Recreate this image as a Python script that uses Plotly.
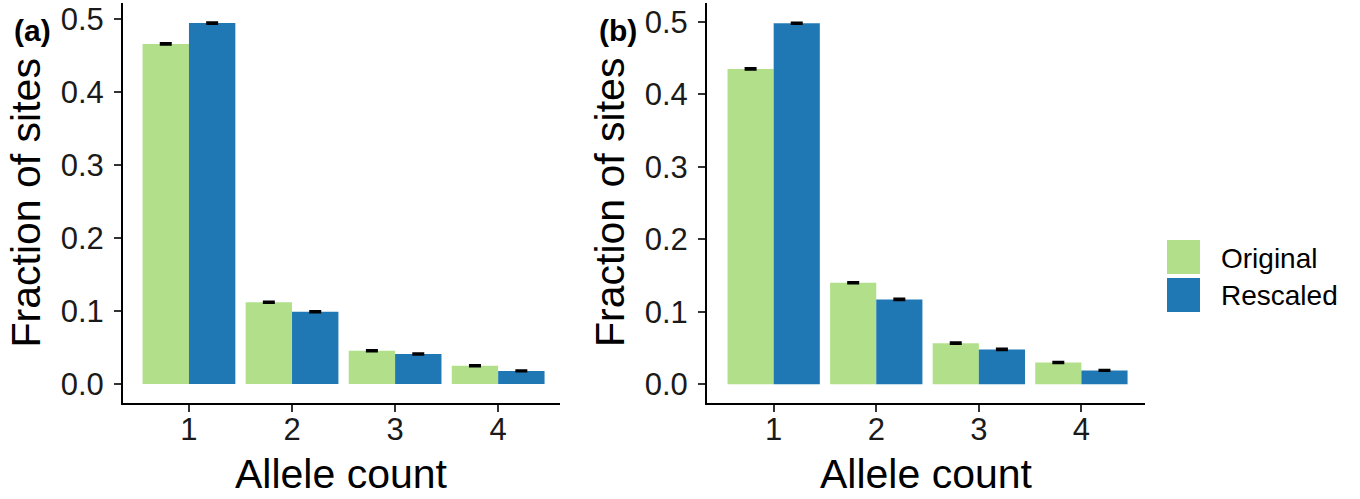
import plotly.graph_objects as go

W, H = 1360, 499

categories = [1, 2, 3, 4]
tick_labels = ["1", "2", "3", "4"]
series_names = ["Original", "Rescaled"]
colors = ["#b2df8a", "#1f78b4"]

# Panel (a)
a_original = [0.466, 0.112, 0.0456, 0.025]
a_rescaled = [0.4945, 0.099, 0.041, 0.018]
a_err_original = [0.0008, 0.0008, 0.0008, 0.0007]
a_err_rescaled = [0.0008, 0.0008, 0.0007, 0.0006]

# Panel (b)
b_original = [0.435, 0.140, 0.0566, 0.030]
b_rescaled = [0.498, 0.117, 0.048, 0.019]
b_err_original = [0.0008, 0.0008, 0.0008, 0.0007]
b_err_rescaled = [0.0008, 0.0008, 0.0007, 0.0006]

y_ticks = [0.0, 0.1, 0.2, 0.3, 0.4, 0.5]
y_tick_text = ["0.0", "0.1", "0.2", "0.3", "0.4", "0.5"]

FONT = "Liberation Sans, Arial, Helvetica, sans-serif"

def px_x(p):
    return p / W

def px_y(p):
    return (H - p) / H

fig = go.Figure()

panels = [
    ("x", "y", [a_original, a_rescaled], [a_err_original, a_err_rescaled]),
    ("x2", "y2", [b_original, b_rescaled], [b_err_original, b_err_rescaled]),
]
for xa, ya, vals, errs in panels:
    for name, col, v, e in zip(series_names, colors, vals, errs):
        fig.add_trace(go.Bar(
            x=categories, y=v, name=name, xaxis=xa, yaxis=ya,
            marker=dict(color=col, line=dict(width=0)),
            error_y=dict(type="data", array=e, visible=True,
                         color="black", thickness=2.5, width=6),
            showlegend=False,
        ))

axis_common = dict(
    showline=True, linecolor="black", linewidth=2,
    ticks="outside", ticklen=7, tickwidth=2, tickcolor="#333333",
    showgrid=False, zeroline=False,
    tickfont=dict(family=FONT, size=31, color="#1a1a1a"),
)

ydom = [px_y(403), px_y(3)]

fig.update_layout(
    width=W, height=H,
    margin=dict(l=0, r=0, t=0, b=0),
    paper_bgcolor="white", plot_bgcolor="white",
    barmode="group", bargap=0.1, bargroupgap=0.0,
    xaxis=dict(domain=[px_x(123), px_x(560)], range=[0.36, 4.6],
               tickvals=categories, ticktext=tick_labels, anchor="y",
               ticklabelstandoff=-9, **axis_common),
    yaxis=dict(domain=ydom, range=[-0.026, 0.522], tickvals=y_ticks,
               ticktext=y_tick_text, anchor="x", ticklabelstandoff=4, **axis_common),
    xaxis2=dict(domain=[px_x(707), px_x(1145)], range=[0.35, 4.62],
                tickvals=categories, ticktext=tick_labels, anchor="y2",
                ticklabelstandoff=-9, **axis_common),
    yaxis2=dict(domain=ydom, range=[-0.026, 0.526], tickvals=y_ticks,
                ticktext=y_tick_text, anchor="x2", ticklabelstandoff=4, **axis_common),
)

annotations = []
# axis titles
for cx in [(123 + 560) / 2, (707 + 1145) / 2]:
    annotations.append(dict(text="Allele count", x=px_x(cx), y=px_y(474),
                            xref="paper", yref="paper", showarrow=False,
                            xanchor="center", yanchor="middle",
                            font=dict(family=FONT, size=41, color="black")))
for cx in [25.5, 610]:
    annotations.append(dict(text="Fraction of sites", x=px_x(cx), y=px_y(203),
                            xref="paper", yref="paper", showarrow=False,
                            textangle=-90, xanchor="center", yanchor="middle",
                            font=dict(family=FONT, size=41, color="black")))
# panel labels
for lab, lx in [("(a)", 12), ("(b)", 597)]:
    annotations.append(dict(text="<b>%s</b>" % lab, x=px_x(lx), y=px_y(31),
                            xref="paper", yref="paper", showarrow=False,
                            xanchor="left", yanchor="middle",
                            font=dict(family=FONT, size=30, color="black")))

# legend
shapes = []
leg_rows = [(240, 274, 258), (278, 312, 295)]
for (y0, y1, yc), name, col in zip(leg_rows, series_names, colors):
    shapes.append(dict(type="rect", xref="paper", yref="paper",
                       x0=px_x(1167), x1=px_x(1200), y0=px_y(y1), y1=px_y(y0),
                       fillcolor=col, line=dict(width=0)))
    annotations.append(dict(text=name, x=px_x(1219), y=px_y(yc),
                            xref="paper", yref="paper", showarrow=False,
                            xanchor="left", yanchor="middle",
                            font=dict(family=FONT, size=28, color="black")))

fig.update_layout(annotations=annotations, shapes=shapes)

fig.write_html("out.html")
